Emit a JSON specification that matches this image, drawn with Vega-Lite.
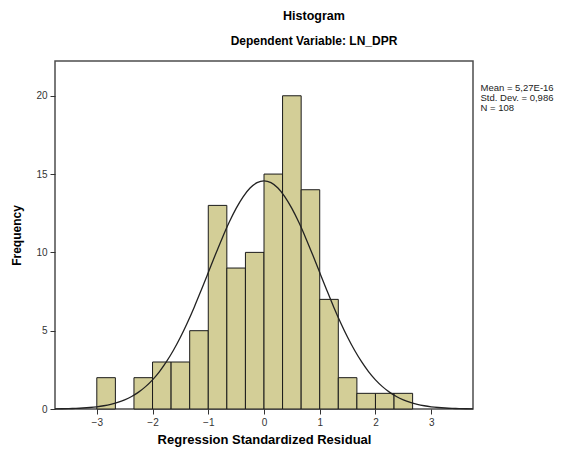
{
  "$schema": "https://vega.github.io/schema/vega-lite/v6.json",
  "width": 418,
  "height": 348,
  "autosize": {"type": "none"},
  "padding": {"left": 55, "top": 61, "right": 89, "bottom": 41},
  "background": "white",
  "title": {
    "text": "Histogram",
    "subtitle": "Dependent Variable: LN_DPR",
    "anchor": "middle",
    "dx": 50,
    "offset": 14,
    "font": "Liberation Sans",
    "fontSize": 12.5,
    "fontWeight": "bold",
    "color": "#000000",
    "subtitleFont": "Liberation Sans",
    "subtitleFontSize": 12,
    "subtitleFontWeight": "bold",
    "subtitleColor": "#000000",
    "subtitlePadding": 14
  },
  "datasets": {
    "bins": [
      {"bin_start": -3.0, "bin_end": -2.6667, "count": 2},
      {"bin_start": -2.3333, "bin_end": -2.0, "count": 2},
      {"bin_start": -2.0, "bin_end": -1.6667, "count": 3},
      {"bin_start": -1.6667, "bin_end": -1.3333, "count": 3},
      {"bin_start": -1.3333, "bin_end": -1.0, "count": 5},
      {"bin_start": -1.0, "bin_end": -0.6667, "count": 13},
      {"bin_start": -0.6667, "bin_end": -0.3333, "count": 9},
      {"bin_start": -0.3333, "bin_end": 0.0, "count": 10},
      {"bin_start": 0.0, "bin_end": 0.3333, "count": 15},
      {"bin_start": 0.3333, "bin_end": 0.6667, "count": 20},
      {"bin_start": 0.6667, "bin_end": 1.0, "count": 14},
      {"bin_start": 1.0, "bin_end": 1.3333, "count": 7},
      {"bin_start": 1.3333, "bin_end": 1.6667, "count": 2},
      {"bin_start": 1.6667, "bin_end": 2.0, "count": 1},
      {"bin_start": 2.0, "bin_end": 2.3333, "count": 1},
      {"bin_start": 2.3333, "bin_end": 2.6667, "count": 1}
    ],
    "curve": [
      {"x": -3.75, "y": 0.0105}, {"x": -3.625, "y": 0.0169}, {"x": -3.5, "y": 0.0268},
      {"x": -3.375, "y": 0.0416}, {"x": -3.25, "y": 0.0637}, {"x": -3.125, "y": 0.096},
      {"x": -3.0, "y": 0.142}, {"x": -2.875, "y": 0.208}, {"x": -2.75, "y": 0.298},
      {"x": -2.625, "y": 0.421}, {"x": -2.5, "y": 0.585}, {"x": -2.375, "y": 0.801},
      {"x": -2.25, "y": 1.078}, {"x": -2.125, "y": 1.429}, {"x": -2.0, "y": 1.862},
      {"x": -1.875, "y": 2.39}, {"x": -1.75, "y": 3.02}, {"x": -1.625, "y": 3.75},
      {"x": -1.5, "y": 4.58}, {"x": -1.375, "y": 5.51}, {"x": -1.25, "y": 6.52},
      {"x": -1.125, "y": 7.6}, {"x": -1.0, "y": 8.71}, {"x": -0.875, "y": 9.83},
      {"x": -0.75, "y": 10.91}, {"x": -0.625, "y": 11.92}, {"x": -0.5, "y": 12.81},
      {"x": -0.375, "y": 13.55}, {"x": -0.25, "y": 14.11}, {"x": -0.125, "y": 14.45},
      {"x": 0.0, "y": 14.57},
      {"x": 0.125, "y": 14.45}, {"x": 0.25, "y": 14.11}, {"x": 0.375, "y": 13.55},
      {"x": 0.5, "y": 12.81}, {"x": 0.625, "y": 11.92}, {"x": 0.75, "y": 10.91},
      {"x": 0.875, "y": 9.83}, {"x": 1.0, "y": 8.71}, {"x": 1.125, "y": 7.6},
      {"x": 1.25, "y": 6.52}, {"x": 1.375, "y": 5.51}, {"x": 1.5, "y": 4.58},
      {"x": 1.625, "y": 3.75}, {"x": 1.75, "y": 3.02}, {"x": 1.875, "y": 2.39},
      {"x": 2.0, "y": 1.862}, {"x": 2.125, "y": 1.429}, {"x": 2.25, "y": 1.078},
      {"x": 2.375, "y": 0.801}, {"x": 2.5, "y": 0.585}, {"x": 2.625, "y": 0.421},
      {"x": 2.75, "y": 0.298}, {"x": 2.875, "y": 0.208}, {"x": 3.0, "y": 0.142},
      {"x": 3.125, "y": 0.096}, {"x": 3.25, "y": 0.0637}, {"x": 3.375, "y": 0.0416},
      {"x": 3.5, "y": 0.0268}, {"x": 3.625, "y": 0.0169}, {"x": 3.75, "y": 0.0105}
    ],
    "stats": [
      {"stat": "Mean = 5,27E-16"},
      {"stat": "Std. Dev. = 0,986"},
      {"stat": "N = 108"}
    ]
  },
  "layer": [
    {
      "data": {"name": "bins"},
      "mark": {"type": "rect", "fill": "#d3ce97", "stroke": "#1a1a1a", "strokeWidth": 1},
      "encoding": {
        "x": {
          "field": "bin_start", "type": "quantitative",
          "scale": {"domain": [-3.75, 3.75], "nice": false, "zero": false},
          "axis": {
            "title": "Regression Standardized Residual",
            "values": [-3, -2, -1, 0, 1, 2, 3],
            "format": "d",
            "titleFontSize": 13,
            "titlePadding": 6
          }
        },
        "x2": {"field": "bin_end"},
        "y": {
          "field": "count", "type": "quantitative",
          "scale": {"domain": [0, 22.22], "nice": false},
          "axis": {
            "title": "Frequency",
            "values": [0, 5, 10, 15, 20],
            "format": "d",
            "titleFontSize": 12,
            "titlePadding": 12
          }
        },
        "y2": {"datum": 0}
      }
    },
    {
      "data": {"name": "curve"},
      "mark": {"type": "line", "stroke": "#222222", "strokeWidth": 1.3, "interpolate": "monotone"},
      "encoding": {
        "x": {"field": "x", "type": "quantitative"},
        "y": {"field": "y", "type": "quantitative"}
      }
    },
    {
      "data": {"name": "stats"},
      "mark": {"type": "point", "opacity": 0},
      "encoding": {
        "color": {
          "field": "stat", "type": "nominal",
          "scale": {"domain": ["Mean = 5,27E-16", "Std. Dev. = 0,986", "N = 108"], "range": ["#222222", "#222222", "#222222"]},
          "legend": {
            "title": " ",
            "orient": "right",
            "offset": -2,
            "titleFontSize": 10,
            "titlePadding": 12,
            "symbolSize": 0,
            "symbolOpacity": 0,
            "symbolStrokeWidth": 0,
            "labelOffset": 0,
            "labelFont": "Liberation Sans",
            "labelFontSize": 9.5,
            "labelColor": "#222222",
            "labelLimit": 200,
            "rowPadding": -2,
            "padding": 0
          }
        }
      }
    }
  ],
  "config": {
    "view": {"fill": "#f0f0f0", "stroke": "#4d4d4d", "strokeWidth": 1.5},
    "axis": {
      "grid": false,
      "domain": false,
      "tickSize": 5,
      "tickColor": "#333333",
      "tickWidth": 1,
      "labelFont": "Liberation Sans",
      "labelFontSize": 10,
      "labelColor": "#333333",
      "labelPadding": 3,
      "titleFont": "Liberation Sans",
      "titleFontWeight": "bold",
      "titleColor": "#000000"
    }
  }
}
